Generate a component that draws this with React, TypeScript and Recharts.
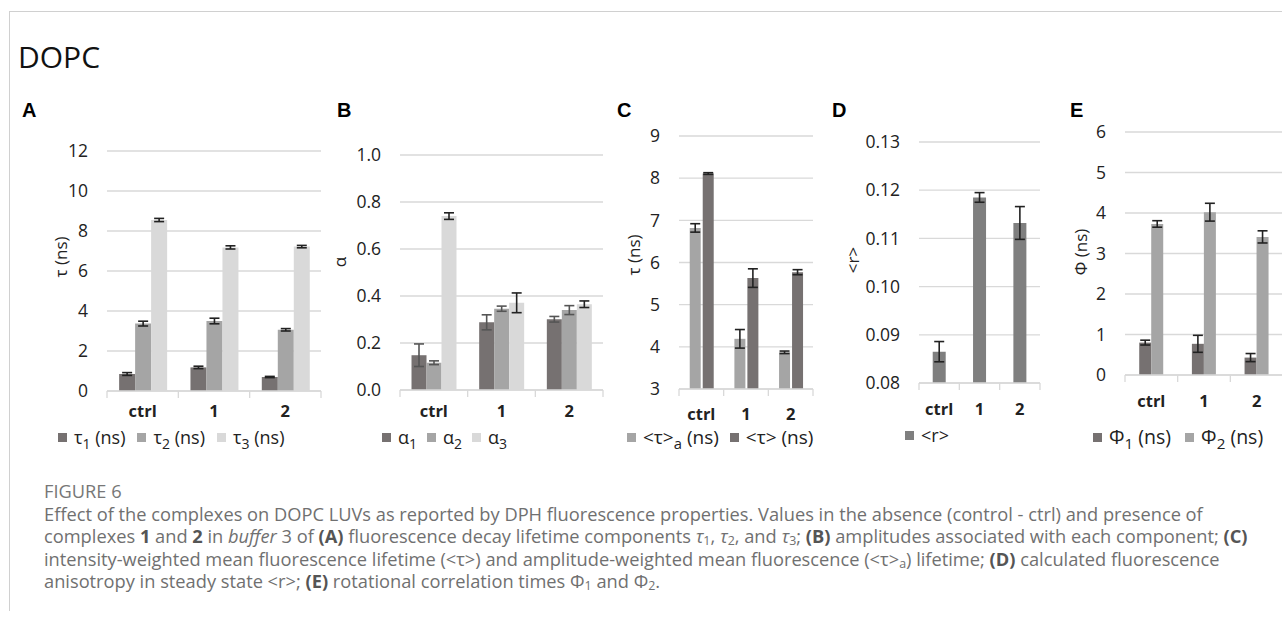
import React from "react";
import { BarChart, Bar, XAxis, YAxis, CartesianGrid, ErrorBar } from "recharts";

const categories = ["ctrl", "1", "2"];

// A: lifetime components (ns)
const tau1 = [0.85, 1.18, 0.7];
const tau1Err = [0.07, 0.06, 0.03];
const tau2 = [3.37, 3.5, 3.06];
const tau2Err = [0.12, 0.14, 0.06];
const tau3 = [8.55, 7.18, 7.22];
const tau3Err = [0.08, 0.08, 0.06];

// B: amplitudes
const alpha1 = [0.148, 0.288, 0.301];
const alpha1Err = [0.048, 0.032, 0.012];
const alpha2 = [0.116, 0.346, 0.34];
const alpha2Err = [0.008, 0.011, 0.019];
const alpha3 = [0.74, 0.371, 0.365];
const alpha3Err = [0.014, 0.042, 0.014];

// C: mean lifetimes (ns)
const tauAmp = [6.82, 4.19, 3.87];
const tauAmpErr = [0.1, 0.22, 0.03];
const tauInt = [8.11, 5.63, 5.77];
const tauIntErr = [0.02, 0.22, 0.06];

// D: steady-state anisotropy
const rVals = [0.0865, 0.1185, 0.1132];
const rErr = [0.0021, 0.001, 0.0034];

// E: rotational correlation times (ns)
const phi1 = [0.8, 0.77, 0.43];
const phi1Err = [0.06, 0.21, 0.1];
const phi2 = [3.73, 4.02, 3.41];
const phi2Err = [0.08, 0.22, 0.15];

const ticksA = [0, 2, 4, 6, 8, 10, 12];
const ticksB = [0, 0.2, 0.4, 0.6, 0.8, 1.0];
const ticksC = [3, 4, 5, 6, 7, 8, 9];
const ticksD = [0.08, 0.09, 0.1, 0.11, 0.12, 0.13];
const ticksE = [0, 1, 2, 3, 4, 5, 6];

const DARK = "#767171";
const MID = "#a5a5a5";
const LIGHT = "#d9d9d9";
const DGRAY = "#7f7f7f";
const GRID = "#d9d9d9";
const INK = "#222";
const FONT = "'Open Sans', sans-serif";

function rows(cols: Record<string, number[]>) {
  return categories.map((c, i) => {
    const row: Record<string, string | number> = { cat: c };
    for (const k in cols) row[k] = cols[k][i];
    return row;
  });
}

const dataA = rows({ tau1, tau1Err, tau2, tau2Err, tau3, tau3Err });
const dataB = rows({ alpha1, alpha1Err, alpha2, alpha2Err, alpha3, alpha3Err });
const dataC = rows({ tauAmp, tauAmpErr, tauInt, tauIntErr });
const dataD = rows({ rVals, rErr });
const dataE = rows({ phi1, phi1Err, phi2, phi2Err });

type BarDef = { key: string; err: string; color: string; errColor: string };

const AXIS_W = 90;
const M_TOP = 24;
const M_RIGHT = 10;
const X_H = 45;

interface PanelProps {
  data: Record<string, string | number>[];
  bars: BarDef[];
  x0: number;
  x1: number;
  y0: number;
  y1: number;
  domain: [number, number];
  ticks: number[];
  digits: number;
  yLabel: string;
  labelX: number;
  labelY: number;
  gap: string;
  barGap: number;
  catDy: number;
}

function Panel(p: PanelProps) {
  const plotW = p.x1 - p.x0;
  const plotH = p.y1 - p.y0;
  const band = plotW / categories.length;
  const left = p.x0 - AXIS_W;
  const top = p.y0 - M_TOP;

  const catTick = (t: any) => {
    const { x, y, payload, index } = t;
    return (
      <g>
        <line x1={x - band / 2} x2={x - band / 2} y1={y} y2={y + 7} stroke={GRID} strokeWidth={1.3} />
        {index === categories.length - 1 && (
          <line x1={x + band / 2} x2={x + band / 2} y1={y} y2={y + 7} stroke={GRID} strokeWidth={1.3} />
        )}
        <text x={x} y={y + p.catDy} textAnchor="middle" fontFamily={FONT} fontWeight={700} fontSize={16.5} fill={INK}>
          {payload.value}
        </text>
      </g>
    );
  };

  const yTitle = () => {
    const cx = p.labelX - left;
    const cy = p.labelY - top;
    return (
      <text
        x={cx}
        y={cy}
        transform={`rotate(-90 ${cx} ${cy})`}
        textAnchor="middle"
        dominantBaseline="central"
        fontFamily={FONT}
        fontSize={17}
        fill={INK}
      >
        {p.yLabel}
      </text>
    );
  };

  return (
    <div style={{ position: "absolute", left, top }}>
      <BarChart
        width={AXIS_W + plotW + M_RIGHT}
        height={M_TOP + plotH + X_H}
        data={p.data}
        margin={{ top: M_TOP, right: M_RIGHT, bottom: 0, left: 0 }}
        barCategoryGap={p.gap}
        barGap={p.barGap}
      >
        <CartesianGrid vertical={false} stroke={GRID} strokeWidth={1.3} />
        <XAxis
          dataKey="cat"
          height={X_H}
          stroke={GRID}
          strokeWidth={1.3}
          tickLine={false}
          tickSize={0}
          tickMargin={0}
          interval={0}
          tick={catTick}
        />
        <YAxis
          width={AXIS_W}
          type="number"
          domain={p.domain}
          ticks={p.ticks}
          allowDataOverflow
          axisLine={false}
          tickLine={false}
          tickSize={0}
          tickMargin={19}
          tick={{ fontSize: 17.5, fill: INK, fontFamily: FONT }}
          tickFormatter={(v: number) => v.toFixed(p.digits)}
          label={yTitle}
        />
        {p.bars.map((b) => (
          <Bar key={b.key} dataKey={b.key} fill={b.color} isAnimationActive={false}>
            <ErrorBar dataKey={b.err} width={5} stroke={b.errColor} strokeWidth={1.6} direction="y" />
          </Bar>
        ))}
      </BarChart>
    </div>
  );
}

type LegendItem = { color: string; base: string; sub?: string; tail?: string };

const subStyle: React.CSSProperties = { fontSize: "0.78em", position: "relative", top: "0.35em", lineHeight: 0 };

function KeyRow({
  left,
  top,
  items,
  spacing,
  size = 18,
}: {
  left: number;
  top: number;
  items: LegendItem[];
  spacing: number;
  size?: number;
}) {
  return (
    <div
      style={{
        position: "absolute",
        left,
        top,
        display: "flex",
        alignItems: "center",
        fontFamily: FONT,
        fontSize: size,
        color: INK,
        whiteSpace: "nowrap",
        lineHeight: "22px",
      }}
    >
      {items.map((it, i) => (
        <span key={i} style={{ display: "flex", alignItems: "center", marginRight: spacing }}>
          <span style={{ display: "inline-block", width: 9, height: 9, background: it.color, marginRight: 7 }} />
          <span>
            {it.base}
            {it.sub && <span style={subStyle}>{it.sub}</span>}
            {it.tail}
          </span>
        </span>
      ))}
    </div>
  );
}

const letterStyle: React.CSSProperties = {
  position: "absolute",
  fontFamily: "'Liberation Sans', Arial, sans-serif",
  fontWeight: 700,
  fontSize: 20,
  lineHeight: "20px",
  color: "#000",
};

const capSub: React.CSSProperties = { fontSize: "0.68em", position: "relative", top: "0.18em", lineHeight: 0 };

const B = ({ children }: { children: React.ReactNode }) => (
  <b style={{ fontWeight: 700, color: "#555" }}>{children}</b>
);
const T = ({ n }: { n: string }) => (
  <>
    <i>τ</i>
    <span style={capSub}>{n}</span>
  </>
);

export default function App() {
  return (
    <div
      style={{
        position: "absolute",
        left: 0,
        top: 0,
        width: 1282,
        height: 619,
        overflow: "hidden",
        background: "#fff",
      }}
    >
      <div style={{ position: "absolute", left: 9, top: 11, width: 1273, height: 1, background: "#d0d0d0" }} />
      <div style={{ position: "absolute", left: 9, top: 11, width: 1, height: 600, background: "#d0d0d0" }} />

      <div style={{ position: "absolute", left: 18, top: 37, fontFamily: FONT, fontSize: 30, lineHeight: "40px", color: "#111" }}>
        DOPC
      </div>

      <div style={{ ...letterStyle, left: 22, top: 100 }}>A</div>
      <div style={{ ...letterStyle, left: 337, top: 100 }}>B</div>
      <div style={{ ...letterStyle, left: 617, top: 100 }}>C</div>
      <div style={{ ...letterStyle, left: 832, top: 100 }}>D</div>
      <div style={{ ...letterStyle, left: 1070, top: 100 }}>E</div>

      <Panel
        data={dataA}
        bars={[
          { key: "tau1", err: "tau1Err", color: DARK, errColor: INK },
          { key: "tau2", err: "tau2Err", color: MID, errColor: INK },
          { key: "tau3", err: "tau3Err", color: LIGHT, errColor: INK },
        ]}
        x0={107}
        x1={321}
        y0={151}
        y1={391}
        domain={[0, 12]}
        ticks={ticksA}
        digits={0}
        yLabel="τ (ns)"
        labelX={60}
        labelY={257}
        gap="17%"
        barGap={0}
        catDy={26}
      />
      <Panel
        data={dataB}
        bars={[
          { key: "alpha1", err: "alpha1Err", color: DARK, errColor: "#555" },
          { key: "alpha2", err: "alpha2Err", color: MID, errColor: "#555" },
          { key: "alpha3", err: "alpha3Err", color: LIGHT, errColor: INK },
        ]}
        x0={400}
        x1={603}
        y0={155}
        y1={390}
        domain={[0, 1]}
        ticks={ticksB}
        digits={1}
        yLabel="α"
        labelX={339}
        labelY={262}
        gap="17%"
        barGap={0}
        catDy={27}
      />
      <Panel
        data={dataC}
        bars={[
          { key: "tauAmp", err: "tauAmpErr", color: MID, errColor: INK },
          { key: "tauInt", err: "tauIntErr", color: DARK, errColor: INK },
        ]}
        x0={679}
        x1={813}
        y0={136}
        y1={389}
        domain={[3, 9]}
        ticks={ticksC}
        digits={0}
        yLabel="τ (ns)"
        labelX={633}
        labelY={255}
        gap="24%"
        barGap={2}
        catDy={31}
      />
      <Panel
        data={dataD}
        bars={[{ key: "rVals", err: "rErr", color: DGRAY, errColor: INK }]}
        x0={919}
        x1={1040}
        y0={142}
        y1={383}
        domain={[0.08, 0.13]}
        ticks={ticksD}
        digits={2}
        yLabel="<r>"
        labelX={852}
        labelY={260}
        gap="34%"
        barGap={0}
        catDy={32}
      />
      <Panel
        data={dataE}
        bars={[
          { key: "phi1", err: "phi1Err", color: DARK, errColor: INK },
          { key: "phi2", err: "phi2Err", color: MID, errColor: INK },
        ]}
        x0={1125}
        x1={1283}
        y0={132}
        y1={375}
        domain={[0, 6]}
        ticks={ticksE}
        digits={0}
        yLabel="Φ (ns)"
        labelX={1080}
        labelY={252}
        gap="27%"
        barGap={0}
        catDy={32}
      />

      <KeyRow
        left={58}
        top={426}
        spacing={12}
        items={[
          { color: DARK, base: "τ", sub: "1", tail: " (ns)" },
          { color: MID, base: "τ", sub: "2", tail: " (ns)" },
          { color: LIGHT, base: "τ", sub: "3", tail: " (ns)" },
        ]}
      />
      <KeyRow
        left={382}
        top={426}
        spacing={10}
        items={[
          { color: DARK, base: "α", sub: "1" },
          { color: MID, base: "α", sub: "2" },
          { color: LIGHT, base: "α", sub: "3" },
        ]}
      />
      <KeyRow
        left={627}
        top={426}
        spacing={11}
        size={19}
        items={[
          { color: MID, base: "<τ>", sub: "a", tail: " (ns)" },
          { color: DARK, base: "<τ> (ns)" },
        ]}
      />
      <KeyRow left={905} top={424} spacing={10} items={[{ color: DGRAY, base: "<r>" }]} />
      <KeyRow
        left={1093}
        top={426}
        spacing={14}
        size={19.5}
        items={[
          { color: DARK, base: "Φ", sub: "1", tail: " (ns)" },
          { color: MID, base: "Φ", sub: "2", tail: " (ns)" },
        ]}
      />

      <div
        style={{
          position: "absolute",
          left: 44,
          top: 480,
          fontFamily: FONT,
          fontSize: 18.25,
          lineHeight: "22.5px",
          color: "#707070",
          whiteSpace: "nowrap",
        }}
      >
        <div style={{ color: "#777", fontWeight: 500 }}>FIGURE 6</div>
        <div>
          Effect of the complexes on DOPC LUVs as reported by DPH fluorescence properties. Values in the absence (control - ctrl) and presence of
        </div>
        <div>
          complexes <B>1</B> and <B>2</B> in <i>buffer</i> 3 of <B>(A)</B> fluorescence decay lifetime components <T n="1" />, <T n="2" />, and{" "}
          <T n="3" />; <B>(B)</B> amplitudes associated with each component; <B>(C)</B>
        </div>
        <div>
          intensity-weighted mean fluorescence lifetime (&lt;τ&gt;) and amplitude-weighted mean fluorescence (&lt;τ&gt;
          <span style={capSub}>a</span>) lifetime; <B>(D)</B> calculated fluorescence
        </div>
        <div>
          anisotropy in steady state &lt;r&gt;; <B>(E)</B> rotational correlation times Φ<span style={capSub}>1</span> and Φ
          <span style={capSub}>2</span>.
        </div>
      </div>
    </div>
  );
}
